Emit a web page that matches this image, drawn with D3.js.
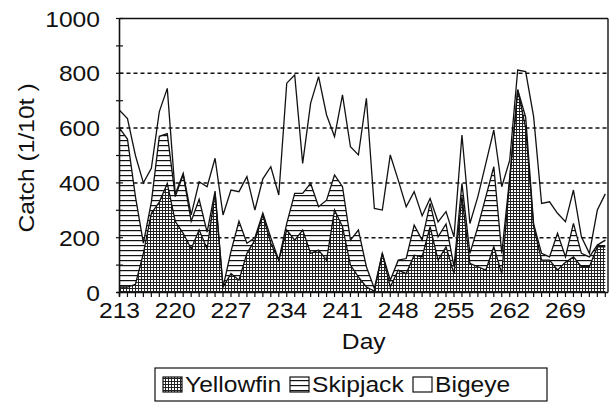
<!DOCTYPE html>
<html><head><meta charset="utf-8">
<script src="https://cdn.jsdelivr.net/npm/d3@7/dist/d3.min.js"></script>
<style>body{margin:0;background:#fff;} svg text{font-family:"Liberation Sans",Arial,sans-serif;fill:#111;}</style>
</head><body><svg id="c" width="615" height="408"></svg>
<script>
// ---- data ----
const days = [213,214,215,216,217,218,219,220,221,222,223,224,225,226,227,228,229,230,231,232,
  233,234,235,236,237,238,239,240,241,242,243,244,245,246,247,248,249,250,251,252,
  253,254,255,256,257,258,259,260,261,262,263,264,265,266,267,268,269,270,271,272,273,274];
const yellowfin = [20,20,30,143,289,330,398,260,216,160,228,160,362,20,69,45,143,191,283,180,
  118,228,191,228,143,155,118,301,240,100,57,20,5,143,20,82,69,136,130,240,
  118,167,69,350,106,94,82,167,69,410,740,600,240,118,118,82,110,130,94,94,167,167];
const skipjack = [580,540,320,37,41,240,182,90,214,100,112,60,8,0,81,215,37,9,7,20,
  0,24,171,134,255,158,219,128,146,91,171,74,10,0,25,36,55,110,61,85,
  85,83,25,48,37,146,268,292,74,10,0,40,10,25,12,134,20,122,49,36,6,24];
const bigeye = [65,75,150,220,123,90,165,10,5,23,64,166,120,263,224,108,243,101,125,259,
  238,512,432,109,293,475,311,140,335,341,274,615,292,158,457,292,189,122,89,18,
  55,45,109,177,109,110,121,134,243,63,72,166,392,182,201,73,128,122,60,13,128,169];
const seriesNames = ["Yellowfin","Skipjack","Bigeye"];
const xTickLabels = [213,220,227,234,241,248,255,262,269];
const yTickLabels = [0,200,400,600,800,1000];
const yMinorTicks = [0,100,200,300,400,500,600,700,800,900,1000];

// ---- layout ----
const L = 119.5, R = 608, T = 18.5, B = 292.5;
const FS = 22, SX = 1.12;
const svg = d3.select("#c");
const x = d3.scaleLinear().domain([213, 274]).range([L, 605.3]);
const y = d3.scaleLinear().domain([0, 1000]).range([B, T]);

const defs = svg.append("defs");
const pY = defs.append("pattern").attr("id","pY").attr("patternUnits","userSpaceOnUse").attr("width",3).attr("height",3);
pY.append("rect").attr("width",3).attr("height",3).attr("fill","#fff");
pY.append("rect").attr("width",3).attr("height",1).attr("fill","#222");
pY.append("rect").attr("width",1).attr("height",3).attr("fill","#222");
const pS = defs.append("pattern").attr("id","pS").attr("patternUnits","userSpaceOnUse").attr("width",8).attr("height",5);
pS.append("rect").attr("width",8).attr("height",5).attr("fill","#fff");
pS.append("rect").attr("width",8).attr("height",1.2).attr("fill","#111");
const fills = ["url(#pY)","url(#pS)","none"];

// gridlines
svg.append("g").selectAll("line").data(yTickLabels.filter(v=>v>0 && v<1000)).join("line")
  .attr("x1",L).attr("x2",R).attr("y1",d=>y(d)).attr("y2",d=>y(d))
  .attr("stroke","#111").attr("stroke-width",1.5).attr("stroke-dasharray","4,3");

// stacked areas
const table = days.map((d,i)=>({day:d, Yellowfin:yellowfin[i], Skipjack:skipjack[i], Bigeye:bigeye[i]}));
const stacked = d3.stack().keys(seriesNames)(table);
const area = d3.area().x(d=>x(d.data.day)).y0(d=>y(d[0])).y1(d=>y(d[1]));
const line = d3.line().x(d=>x(d.data.day)).y(d=>y(d[1]));
svg.append("g").selectAll("path").data(stacked).join("path")
  .attr("d",area).attr("fill",(d,i)=>fills[i]).attr("stroke","none");
svg.append("g").selectAll("path").data(stacked).join("path")
  .attr("d",line).attr("fill","none").attr("stroke","#111").attr("stroke-width",1.3).attr("stroke-linejoin","miter");

// frame
svg.append("line").attr("x1",L).attr("x2",R).attr("y1",T).attr("y2",T).attr("stroke","#111").attr("stroke-width",1.4);
svg.append("line").attr("x1",R).attr("x2",R).attr("y1",T).attr("y2",B).attr("stroke","#111").attr("stroke-width",1.4);
svg.append("line").attr("x1",L).attr("x2",L).attr("y1",T).attr("y2",B+4).attr("stroke","#111").attr("stroke-width",1.6);
svg.append("line").attr("x1",L-3).attr("x2",R).attr("y1",B).attr("y2",B).attr("stroke","#111").attr("stroke-width",1.6);

// y ticks (crossing) and labels
svg.append("g").selectAll("line").data(yMinorTicks).join("line")
  .attr("x1",L-3.5).attr("x2",L+3.5).attr("y1",d=>y(d)).attr("y2",d=>y(d)).attr("stroke","#111").attr("stroke-width",1.2);
function txt(str, tx, ty, anchor, rot){
  return svg.append("text").attr("transform",`translate(${tx},${ty})${rot?` rotate(${rot})`:""} scale(${SX},1)`)
    .attr("text-anchor",anchor).attr("font-size",FS).text(str);
}
yTickLabels.forEach(v=>txt(String(v), 100, y(v)+8, "end"));

// x ticks and labels
svg.append("g").selectAll("line").data(days).join("line")
  .attr("x1",d=>x(d)).attr("x2",d=>x(d)).attr("y1",B).attr("y2",B+4.5).attr("stroke","#111").attr("stroke-width",1.2);
xTickLabels.forEach(v=>txt(String(v), x(v), 318, "middle"));

// axis titles
txt("Day", (L+R)/2, 349, "middle");
txt("Catch (1/10t )", 34, 158, "middle", -90);

// legend
svg.append("rect").attr("x",155).attr("y",368).attr("width",392).attr("height",33)
  .attr("fill","#fff").attr("stroke","#111").attr("stroke-width",1.2);
const legX = [163, 290, 413];
seriesNames.forEach((n,i)=>{
  svg.append("rect").attr("x",legX[i]).attr("y",377).attr("width",19).attr("height",15)
    .attr("fill", i===2 ? "#fff" : fills[i]).attr("stroke","#111").attr("stroke-width",1.2);
  txt(n, legX[i]+22, 392, "start");
});
</script></body></html>
